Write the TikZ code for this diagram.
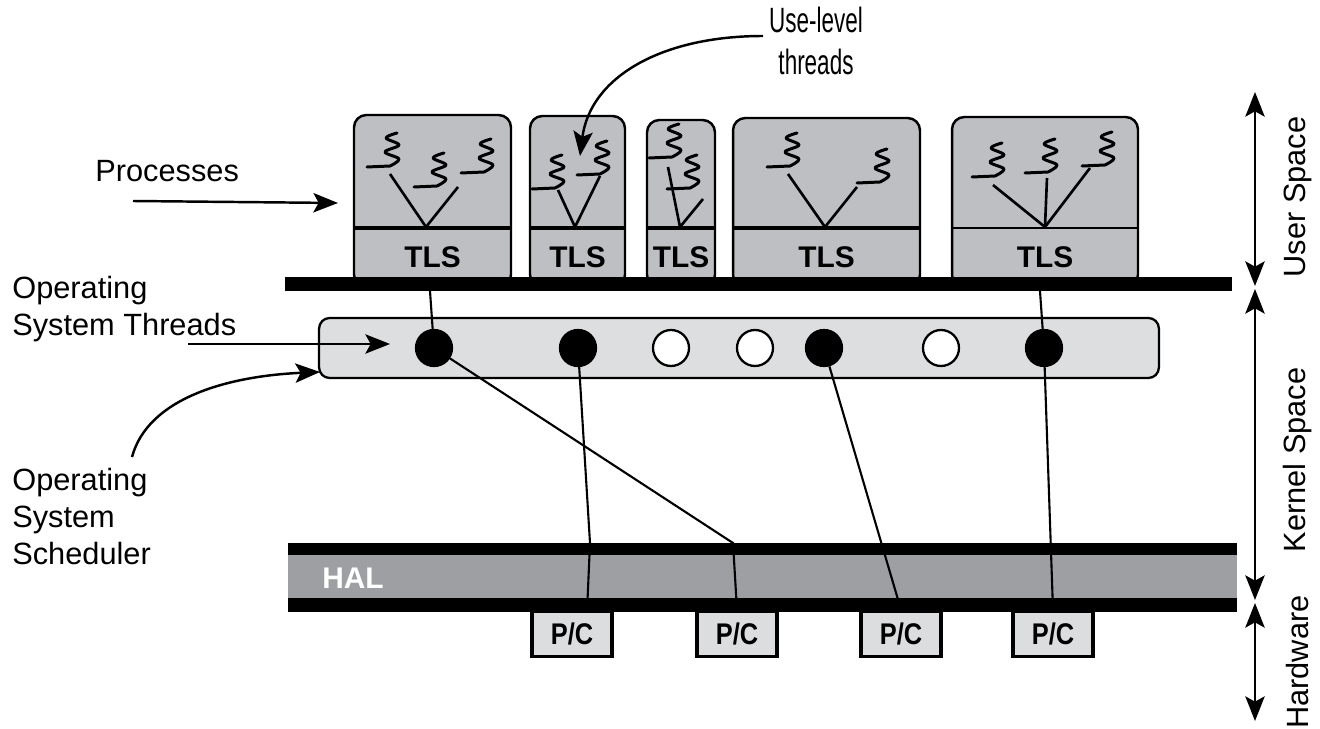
\documentclass[tikz,border=0pt]{standalone}
\usepackage{fontspec}
\setmainfont{Liberation Sans}
\newfontfamily\condfont{Liberation Sans}[FakeStretch=0.64]
\newfontfamily\pcfont{Liberation Sans}[FakeStretch=0.85]
\usetikzlibrary{arrows.meta}

\definecolor{procgray}{RGB}{190,191,195}
\definecolor{kerngray}{RGB}{221,222,223}
\definecolor{halgray}{RGB}{158,159,162}
\definecolor{pcgray}{RGB}{220,221,222}

\tikzset{
  uthread/.pic={
    \draw[line width=1.7pt,line cap=round,line join=round]
      (-23,1) -- plot[smooth,tension=0.6] coordinates {(0,0) (9,-7) (-5,-14) (9,-21) (-4,-28) (7,-33)};
  }
}

\begin{document}
\begin{tikzpicture}[x=0.02cm, y=-0.02cm,
  lbl/.style={font=\fontsize{17.5}{21}\selectfont, align=left, inner sep=0pt},
  proc/.style={draw, line width=1.4pt, rounded corners=7pt, fill=procgray},
  tls/.style={font=\fontsize{17}{20}\selectfont\bfseries},
  kthr/.style={circle, draw, line width=1.3pt, minimum size=0.72cm, inner sep=0pt},
  pc/.style={draw, line width=2pt, fill=pcgray, minimum width=1.6cm, minimum height=0.9cm,
    font=\fontsize{17}{20}\selectfont\pcfont\bfseries},
  link/.style={line width=1.2pt},
  vee/.style={line width=1.5pt},
  arr/.style={-{Stealth[length=14pt,width=11pt,inset=3pt]}, line width=1.4pt},
  darr/.style={{Stealth[length=14pt,width=11pt,inset=3pt]}-{Stealth[length=14pt,width=11pt,inset=3pt]}, line width=1.4pt}
]
\useasboundingbox (0,0) rectangle (1320,729);

% process boxes
\node[proc, minimum width=3.14cm, minimum height=3.44cm] (p1) at (432.5,201) {};
\node[proc, minimum width=1.90cm, minimum height=3.42cm] (p2) at (577.5,201.5) {};
\node[proc, minimum width=1.36cm, minimum height=3.34cm] (p3) at (681,203.5) {};
\node[proc, minimum width=3.74cm, minimum height=3.38cm] (p4) at (826.5,202.5) {};
\node[proc, minimum width=3.72cm, minimum height=3.40cm] (p5) at (1045,202) {};

\coordinate (tl) at (0,228);
\coordinate (ty) at (0,257);
\foreach \p/\w in {1/1.8pt,2/1.8pt,3/1.8pt,4/1.8pt,5/1pt}{
  \draw[line width=\w] (p\p.west |- tl) -- (p\p.east |- tl);
  \node[tls] (tls\p) at (p\p |- ty) {TLS};
}

% user-level threads
\pic at (390,166) {uthread};
\pic at (437,186) {uthread};
\pic at (484,172) {uthread};
\pic at (555,188) {uthread};
\pic at (600,174) {uthread};
\pic at (672,157) {uthread};
\pic at (690,188) {uthread};
\pic at (790,166) {uthread};
\pic at (880,182) {uthread};
\pic at (995,176) {uthread};
\pic at (1048,172) {uthread};
\pic at (1105,165) {uthread};

\coordinate (v1) at (426,227);
\coordinate (v2) at (575,227);
\coordinate (v3) at (680,227);
\coordinate (v4) at (825,227);
\coordinate (v5) at (1045,227);
\draw[vee] (390,174) -- (v1) -- (458,187);
\draw[vee] (558,190) -- (v2) -- (600,176);
\draw[vee] (668,167) -- (v3) -- (703,199);
\draw[vee] (788,174) -- (v4) -- (857,187);
\draw[vee] (993,185) -- (v5) -- (1090,168);
\draw[vee] (1047,178) -- (v5);

% user / kernel boundary
\fill (285,277) rectangle (1232,291);

% kernel
\node[draw, line width=1.3pt, fill=kerngray, rounded corners=6pt,
  minimum width=16.8cm, minimum height=1.2cm] (kbar) at (739,348) {};
\foreach \n/\x/\f in {1/434/black, 2/578/black, 3/671/white, 4/755/white,
                     5/824/black, 6/941/white, 7/1044/black}
  \node[kthr, fill=\f] (k\n) at (\x,348) {};

% HAL
\fill (288,543) rectangle (1237,555);
\fill[halgray] (288,555) rectangle (1237,598);
\fill (288,598) rectangle (1237,612);
\node[font=\fontsize{17}{20}\selectfont\bfseries, text=white] (hal) at (353,578) {HAL};

\node[pc] (pc1) at (572,634) {P/C};
\node[pc] (pc2) at (737,634) {P/C};
\node[pc] (pc3) at (901,634) {P/C};
\node[pc] (pc4) at (1053,634) {P/C};

% thread mapping
\coordinate (u1) at (430,291);
\coordinate (u7) at (1040,291);
\coordinate (b1) at (733,543);
\coordinate (b2) at (590,543);
\coordinate (c1) at (587,612);
\draw[link] (k1) -- (u1);
\draw[link] (k7) -- (u7);
\draw[link] (k1) -- (b1) -- (pc2.north);
\draw[link] (k2) -- (b2) -- (c1);
\draw[link] (k5) -- (pc3.north);
\draw[link] (k7) -- (pc4.north);

% labels
\node[lbl, anchor=base west] (procs) at (95,182) {Processes};
\coordinate (pa) at (133,201);
\coordinate (pb) at (338,203);
\draw[arr] (pa) -- (pb);

\node[lbl, anchor=north west] (ost) at (12,276) {Operating\\System Threads};
\coordinate (ta) at (188,344);
\coordinate (tb) at (390,344);
\draw[arr] (ta) -- (tb);

\node[lbl, anchor=north west] (oss) at (12,468) {Operating\\System\\Scheduler};
\coordinate (sa) at (132,457);
\coordinate (sb) at (320,372);
\draw[arr] (sa) .. controls (148,398) and (228,376) .. (sb);

\node[lbl, align=center, anchor=north, font=\fontsize{20}{24}\selectfont\condfont] (ult) at (816,7) {Use-level\\threads};
\coordinate (la) at (763,36);
\coordinate (lb) at (580,156);
\draw[arr] (la) .. controls (660,36) and (590,78) .. (lb);

% address space ranges
\coordinate (r0) at (1255,92);
\coordinate (r1) at (1255,286);
\coordinate (r2) at (1255,289);
\coordinate (r3) at (1255,600);
\coordinate (r4) at (1255,603);
\coordinate (r5) at (1255,721);
\draw[darr] (r0) -- (r1);
\draw[darr] (r2) -- (r3);
\draw[darr] (r4) -- (r5);
\node[lbl, rotate=90] (us) at (1298,197) {User Space};
\node[lbl, rotate=90] (ks) at (1298,460) {Kernel Space};
\node[lbl, rotate=90] (hw) at (1298,662) {Hardware};
\end{tikzpicture}
\end{document}
